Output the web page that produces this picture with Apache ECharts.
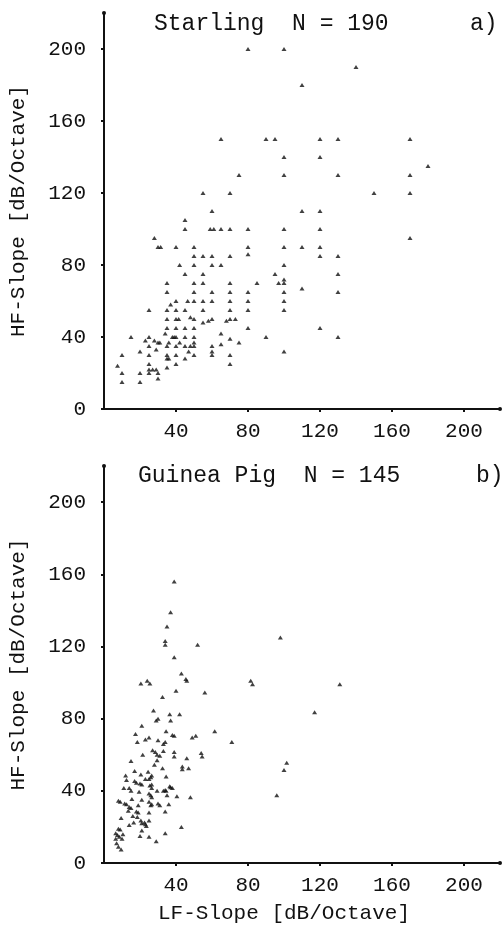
<!DOCTYPE html>
<html>
<head>
<meta charset="utf-8">
<script src="https://cdn.jsdelivr.net/npm/echarts@6/dist/echarts.min.js"></script>
<style>
  html, body { margin: 0; padding: 0; background: #fff; }
  #chart { width: 502px; height: 927px; }
</style>
</head>
<body>
<div id="chart"></div>
<script>
// Panel headings
const panelTitles = ['Starling  N = 190', 'Guinea Pig  N = 145'];
const panelTags = ['a)', 'b)'];
const yAxisName = 'HF-Slope [dB/Octave]';
const xAxisName = 'LF-Slope [dB/Octave]';

// Axis ticks (dB/Octave)
const axisMin = 0;
const axisMax = 220;
const tickStep = 40;

// a) Starling: [LF-slope, HF-slope]
const starling = [
  [60,110],[45,105],[45,100],[59,100],[61,100],[65,100],[70,100],[80,100],[100,100],[28,95],
  [30,90],[31.5,90],[40,90],[50,90],[80,90],[100,90],
  [50,85],[55,85],[60,85],[70,85],[80,86],
  [42,80],[50,80],[60,80],[65,80],[100,80],
  [45,75],[55,75],[95,75],
  [100,72],[100,70],[97,70],
  [35,70],[50,70],[55,70],[70,70],[85,70],
  [35,65],[50,65],[60,65],[70,65],[80,65],[100,65],
  [40,60],[46.5,60],[50,60],[55,60],[60,60],[70,60],[80,60],[100,60],
  [37,58],
  [25,55],[35,55],[40,55],[45,55],[55,55],[70,55],[80,55],[100,55],
  [48,51],
  [35,50],[40,50],[41.5,50],[50,50],[60,50],
  [58,49],[55,48],[68,49],[70,50],[73,50],
  [35,45],[40,45],[45,45],[50,45],[80,45],
  [34,42],[65,42],
  [15,40],[25,40],[38,40],[39,40],[40,40],[45,40],[50,40],[90,40],
  [70,39],[23,38],[28,38],
  [30,37],[31,37],[36,37],[42,37],[50,37],[75,37],
  [65,36],
  [25,35],[35,35],[40,35],[45,35],[48,35],[50,35],[60,35],
  [29,33],
  [20,32],[47,32],[60,32],[100,32],
  [10,30],[25,30],[35,30],[40,30],[50,30],[60,30],[70,30],
  [35,28],[36,28],[45,28],
  [25,25],[40,25],[70,25],
  [7.5,24],[35,23],[25,22],[27,22],[29,22],
  [10,20],[20,20],[25,20],[30,20],
  [30,17],[10,15],[20,15],
  [80,200],[100,200],[110,180],[140,190],[65,150],[90,150],[95,150],[100,140],[100,130],
  [75,130],[55,120],[70,120],[120,150],[130,150],[120,140],[170,150],[180,135],[130,130],
  [170,130],[150,120],[170,120],[110,110],[120,110],
  [120,100],[170,95],[110,90],[120,90],[120,85],[130,85],[130,75],[110,67],[130,65],
  [120,45],[130,40]
];

// b) Guinea pig: [LF-slope, HF-slope]
const guineaPig = [
  [39,156],[37,139],[35,131],[34,123],[34,121],[52,121],[98,125],[39,114],[43,105],
  [46,101],[45.5,102],[20.5,99.5],[24,101],[25.5,99.5],[81.5,101],[82.5,99],
  [40,95.5],[56,94.5],[32.5,92],[27.5,84.5],[36.5,82.5],[42,82.5],[29,79],[30,80],[37,79],
  [21,76],[34.5,73],[38,71],[39,70.5],[17.5,71.5],[61.5,73],[49,69.5],[51,70.5],
  [23,68.5],[25,69.5],[18.5,67],[30,68],[34,67],[33,66],[71,67],
  [27,62.5],[28.5,61.5],[29.5,60],[33,62],[39,61.5],[54,61],[54.5,59],[31,59.5],[21.5,60],
  [39,59],[46,58],[29.5,57],[15,56.5],[28,54.5],[43.5,53.5],[43.5,52],[47,52.5],[32.5,52.5],
  [101.5,55.5],[100,51.5],[17,51],[24.5,50.5],[12,48.5],[20.5,49],[26.5,48.5],[26,47.5],[25,46.5],
  [23,46.5],[34.5,48],[12.5,46],[17,45.5],[18,44.5],[20,44],[21,43.5],[25.5,43],[26.5,43.5],
  [11,41.5],[14,41.5],[15,40],[26.5,41.5],[29.5,40],[33,40],[34,40.5],[36.5,42.5],[37,42],[38,41.5],
  [19.5,39.5],[25,38.5],[26,37.5],[26.5,36.5],[35,37.5],[34.5,40],[40.5,37],[48,36.5],[96,37.5],
  [9,34],[8,34.5],[15.5,35.5],[21,35],[11.5,33],[12.5,32.5],[25,34],[26,32],[26.5,32.5],[30,33],
  [31,32],[36,32.5],
  [14,31],[15,30.5],[19,32],[18,28.5],[19,28],[13.5,29],[16,26],[18.5,25.5],[25,28],[34,28.5],
  [9.5,25],[16.5,22.5],[20.5,23.5],[21,22],[22.5,22.5],[23,21.5],[25,23.5],[14,21],[23.5,20.5],[43,20],
  [8,19],[9,18.5],[21,18],[10.5,16],[6.5,16.5],[7.5,15.5],[34,16.5],[20,15],[25,14.5],
  [6.5,13.5],[8.5,14.5],[10,13.5],[29,12],[7,11],[8,9],[9.5,7.5],
  [131,99],[117,83.5]
];

const FONT = 'Liberation Mono';
const FS = 21;      // tick labels and axis names
const FS_HEAD = 23; // panel headings
const ink = '#111';

function makeX(gridIndex, withName) {
  return {
    type: 'value', gridIndex: gridIndex,
    min: axisMin, max: axisMax, interval: tickStep,
    splitLine: { show: false },
    axisLine: { show: true, onZero: false, lineStyle: { color: ink, width: 2 },
      symbol: ['none', 'circle'], symbolSize: [4, 4] },
    axisTick: { show: true, length: 3, lineStyle: { color: ink, width: 2 } },
    axisLabel: { show: true, showMinLabel: false, showMaxLabel: false,
      color: ink, fontFamily: FONT, fontSize: FS, margin: 12 },
    name: withName ? xAxisName : '',
    nameLocation: 'middle', nameGap: 40,
    nameTextStyle: { color: ink, fontFamily: FONT, fontSize: FS, padding: [0, 36, 0, 0] }
  };
}

function makeY(gridIndex) {
  return {
    type: 'value', gridIndex: gridIndex,
    min: axisMin, max: axisMax, interval: tickStep,
    splitLine: { show: false },
    axisLine: { show: true, onZero: false, lineStyle: { color: ink, width: 2 },
      symbol: ['none', 'circle'], symbolSize: [4, 4] },
    axisTick: { show: true, length: 3, lineStyle: { color: ink, width: 2 } },
    axisLabel: { show: true, showMaxLabel: false,
      color: ink, fontFamily: FONT, fontSize: FS, margin: 18 },
    name: yAxisName,
    nameLocation: 'middle', nameGap: 75,
    nameTextStyle: { color: ink, fontFamily: FONT, fontSize: FS }
  };
}

function headText(text, left, top) {
  return { text: text, left: left, top: top, padding: 0,
    textStyle: { color: ink, fontFamily: FONT, fontSize: FS_HEAD, fontWeight: 'normal' } };
}

const chart = echarts.init(document.getElementById('chart'), null, { renderer: 'canvas' });

chart.setOption({
  backgroundColor: '#fff',
  animation: false,
  title: [
    headText(panelTitles[0], 154, 12),
    headText(panelTags[0], 470, 12),
    headText(panelTitles[1], 138, 464),
    headText(panelTags[1], 476, 464)
  ],
  grid: [
    { left: 102, width: 398, top: 13, height: 396 },
    { left: 102, width: 398, top: 466, height: 397 }
  ],
  xAxis: [makeX(0, false), makeX(1, true)],
  yAxis: [makeY(0), makeY(1)],
  series: [
    { type: 'scatter', xAxisIndex: 0, yAxisIndex: 0, data: starling,
      symbol: 'triangle', symbolSize: [5, 4], itemStyle: { color: ink } },
    { type: 'scatter', xAxisIndex: 1, yAxisIndex: 1, data: guineaPig,
      symbol: 'triangle', symbolSize: [5, 4], itemStyle: { color: ink } }
  ]
});
</script>
</body>
</html>
